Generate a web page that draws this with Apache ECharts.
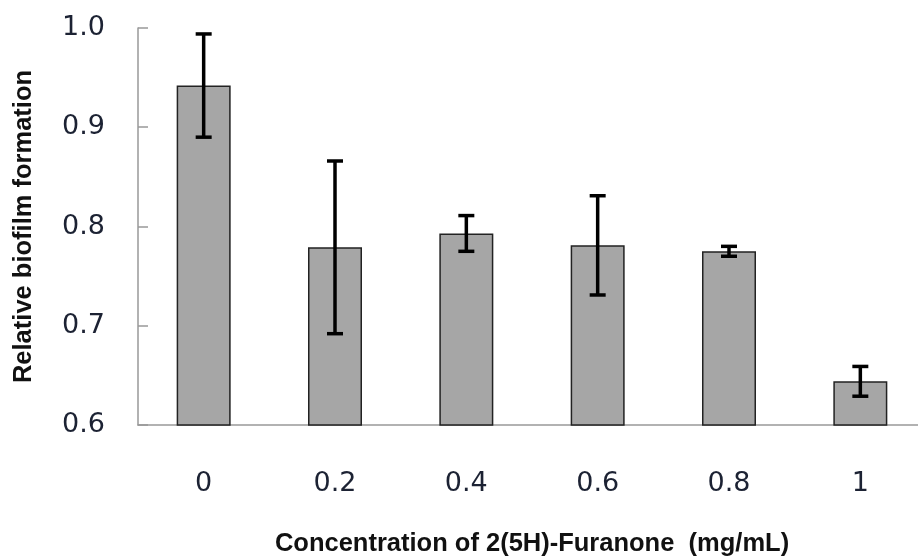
<!DOCTYPE html>
<html><head><meta charset="utf-8">
<script src="https://cdn.jsdelivr.net/npm/echarts@6/dist/echarts.min.js"></script>
<style>html,body{margin:0;padding:0;background:#fff}#c{width:918px;height:556px}</style>
</head><body><div id="c"></div>
<script>
var categories = ['0', '0.2', '0.4', '0.6', '0.8', '1'];
var means = [0.942, 0.779, 0.793, 0.781, 0.775, 0.644];
var errors = [0.052, 0.087, 0.018, 0.050, 0.005, 0.015];
var yTicks = [0.6, 0.7, 0.8, 0.9, 1.0];

var chart = echarts.init(document.getElementById('c'));
var errData = categories.map(function (c, i) { return [i, means[i] - errors[i], means[i] + errors[i]]; });
chart.setOption({
  animation: false,
  grid: { left: 138, top: 28, width: 788, height: 397, containLabel: false, outerBoundsMode: 'none' },
  xAxis: {
    type: 'category', data: categories,
    axisLine: { lineStyle: { color: '#999', width: 1.5 } },
    axisTick: { show: false },
    axisLabel: { color: '#1c2233', fontFamily: 'DejaVu Sans', fontSize: 27, margin: 45 },
    name: 'Concentration of 2(5H)-Furanone  (mg/mL)', nameLocation: 'middle', nameGap: 106,
    nameTextStyle: { fontFamily: 'Liberation Sans', fontWeight: 'bold', fontSize: 25.5, color: '#111' }
  },
  yAxis: {
    type: 'value', min: yTicks[0], max: yTicks[yTicks.length - 1], interval: 0.1,
    axisLine: { show: true, lineStyle: { color: '#999', width: 1.5 } },
    axisTick: { show: true, inside: true, length: 10, lineStyle: { color: '#999', width: 1.5 } },
    splitLine: { show: false },
    axisLabel: { color: '#1c2233', fontFamily: 'DejaVu Sans', fontSize: 27, margin: 33,
      formatter: function (v) { return v.toFixed(1); } },
    name: 'Relative biofilm formation', nameLocation: 'middle', nameGap: 101,
    nameTextStyle: { fontFamily: 'Liberation Sans', fontWeight: 'bold', fontSize: 25.5, color: '#111' }
  },
  series: [
    { type: 'bar', data: means, barWidth: 54,
      itemStyle: { color: '#a6a6a6', borderColor: '#222', borderWidth: 1.5 } },
    { type: 'custom', data: errData, z: 10,
      renderItem: function (params, api) {
        var x = api.coord([api.value(0), api.value(1)])[0];
        var lo = api.coord([api.value(0), api.value(1)])[1];
        var hi = api.coord([api.value(0), api.value(2)])[1];
        var hw = 8;
        var st = { stroke: '#000', lineWidth: 3.5 };
        return { type: 'group', children: [
          { type: 'line', shape: { x1: x, y1: hi, x2: x, y2: lo }, style: st },
          { type: 'line', shape: { x1: x - hw, y1: hi, x2: x + hw, y2: hi }, style: st },
          { type: 'line', shape: { x1: x - hw, y1: lo, x2: x + hw, y2: lo }, style: st }
        ]};
      }
    }
  ]
});
</script></body></html>
